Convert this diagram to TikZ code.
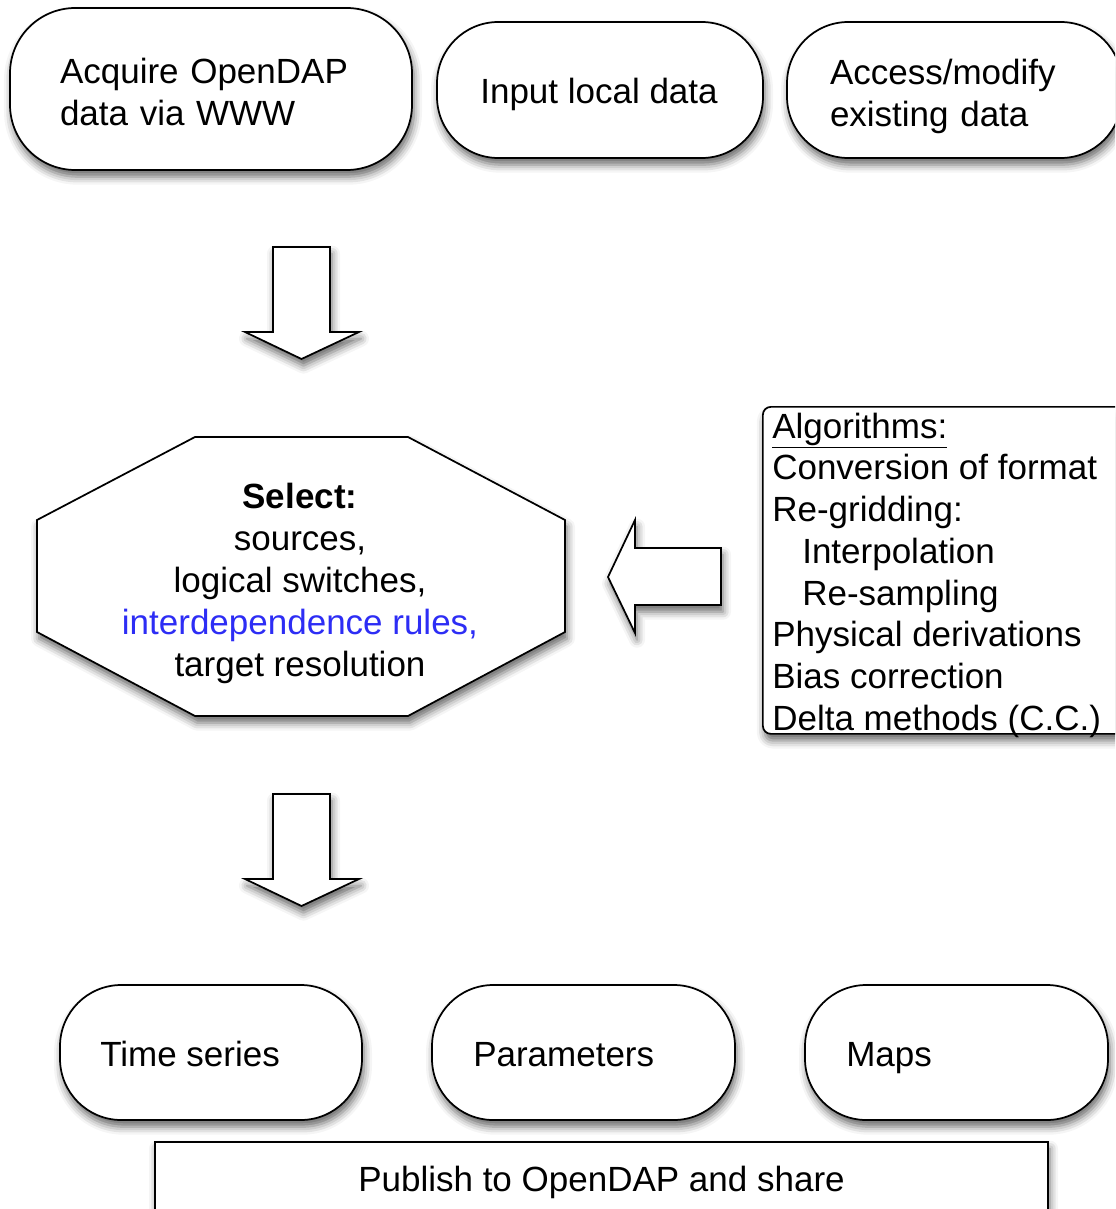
\documentclass[tikz,border=0pt]{standalone}
\usepackage{fontspec}
\setmainfont{Liberation Sans}
\usetikzlibrary{shadows.blur}
\definecolor{selblue}{RGB}{45,45,245}
\begin{document}
\begin{tikzpicture}[x=0.75pt,y=-0.75pt,
  every node/.style={font=\fontsize{26.25}{31.5}\selectfont},
  shadowed/.style={blur shadow={shadow xshift=1.5pt,shadow yshift=-5pt,shadow blur radius=6pt,shadow opacity=60}},
  outline/.style={draw, line width=1.3pt, fill=white, shadowed},
  pill/.style={outline, inner sep=0pt, rounded corners=46pt},
  blockarrow/.style={outline, line join=miter},
  plain/.style={inner sep=0pt}
]
\useasboundingbox (0,0) rectangle (1115,1209);
\clip (0,0) rectangle (1115,1209);

% top row
\node[pill, minimum width=301.5pt, minimum height=121.5pt, rounded corners=49pt] (acquire) at (211,89) {};
\node[plain, align=left, text width=226.5pt] (acquiretext) at (211,92) {Acquire OpenDAP\\data via WWW};
\node[pill, minimum width=244.5pt, minimum height=102pt] (input) at (600,90) {};
\node[plain] (inputtext) at (599,94) {Input local data};
\node[pill, minimum width=251.25pt, minimum height=102pt] (access) at (954.5,90) {};
\node[plain, align=left, text width=186.75pt] (accesstext) at (954.5,96) {Access/modify\\existing data};

% arrow down 1
\draw[blockarrow] (273,247) -- (330,247) -- (330,332) -- (359,332) -- (301.5,359) -- (245,332) -- (273,332) -- cycle;

% select octagon
\draw[outline] (195,437) -- (408,437) -- (565,520) -- (565,632) -- (408,716) -- (195,716) -- (37,632) -- (37,520) -- cycle;
\node[plain, align=center] (select) at (300,583) {\textbf{Select:}\\sources,\\logical switches,\\\textcolor{selblue}{interdependence rules,}\\target resolution};

% left arrow
\draw[blockarrow] (721,548) -- (721,605) -- (635,605) -- (635,633) -- (608,577) -- (635,520) -- (635,548) -- cycle;

% algorithms box
\node[outline, rounded corners=6pt, minimum width=272.25pt, minimum height=245.25pt, anchor=north west, inner sep=0pt] (algbox) at (762,406) {};
\node[plain, anchor=north west, align=left, font=\fontsize{26.25}{31.3}\selectfont] (algtext) at (772,412.5) {\underline{Algorithms:}\\Conversion of format\\Re-gridding:\\\hspace*{22.5pt}Interpolation\\\hspace*{22.5pt}Re-sampling\\Physical derivations\\Bias correction\\Delta methods (C.C.)};

% arrow down 2
\draw[blockarrow] (273,794) -- (330,794) -- (330,879) -- (359,879) -- (301.5,906) -- (245,879) -- (273,879) -- cycle;

% bottom row
\node[pill, minimum width=226.5pt, minimum height=101.25pt] (timeseries) at (211,1052.5) {};
\node[plain, anchor=base west] (timeseriestext) at (100,1066) {Time series};
\node[pill, minimum width=227.25pt, minimum height=101.25pt] (params) at (583.5,1052.5) {};
\node[plain, anchor=base west] (paramstext) at (473,1066) {Parameters};
\node[pill, minimum width=227.25pt, minimum height=101.25pt] (maps) at (956.5,1052.5) {};
\node[plain, anchor=base west] (mapstext) at (846,1066) {Maps};

% publish
\node[outline, minimum width=669.75pt, minimum height=54pt, inner sep=0pt] (publish) at (601.5,1178) {};
\node[plain, anchor=base] (publishtext) at (601.5,1191) {Publish to OpenDAP and share};
\end{tikzpicture}
\end{document}
